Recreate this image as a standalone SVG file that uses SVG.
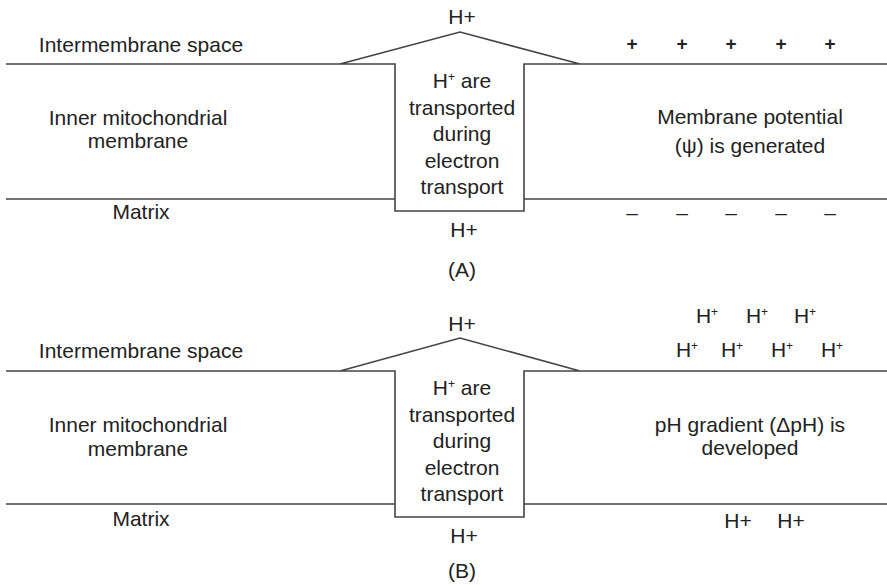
<svg xmlns="http://www.w3.org/2000/svg" width="887" height="585" viewBox="0 0 887 585">
<style>
text{font-family:"Liberation Sans",Arial,sans-serif;font-size:21px;fill:#222;text-anchor:middle}
.l{fill:none;stroke:#444;stroke-width:1.6}
.s{font-size:12px}
.p{font-weight:bold;font-size:19px}
</style>
<rect width="887" height="585" fill="#fff"/>
<g id="panelA">
<g id="membraneA">
<path class="l" d="M6,64H395V211H524V64H887M340,64L460,32L580,64M6,199H395M524,199H887"/>
</g>
<g id="labelsA">
<text x="141" y="52">Intermembrane space</text>
<text x="138" y="125">Inner mitochondrial</text>
<text x="138" y="148">membrane</text>
<text x="141" y="219">Matrix</text>
</g>
<g id="transportA">
<text x="462" y="24">H+</text>
<text x="462" y="88">H<tspan class="s" dy="-7">+</tspan><tspan dy="7"> are</tspan></text>
<text x="462" y="115">transported</text>
<text x="462" y="141">during</text>
<text x="462" y="168">electron</text>
<text x="462" y="194">transport</text>
<text x="464" y="237">H+</text>
<text x="462" y="277">(A)</text>
</g>
<g id="potentialA">
<text class="p" x="632" y="50">+</text><text class="p" x="682" y="50">+</text><text class="p" x="731" y="50">+</text><text class="p" x="781" y="50">+</text><text class="p" x="830" y="50">+</text>
<text x="750" y="124">Membrane potential</text>
<text x="750" y="153">(ψ) is generated</text>
<text x="632" y="220">–</text><text x="682" y="220">–</text><text x="731" y="220">–</text><text x="781" y="220">–</text><text x="830" y="220">–</text>
</g>
</g>
<g id="panelB">
<g id="membraneB">
<path class="l" d="M6,371H395V517H524V371H887M340,371L460,338L580,371M6,504H395M524,504H887"/>
</g>
<g id="labelsB">
<text x="141" y="358">Intermembrane space</text>
<text x="138" y="432">Inner mitochondrial</text>
<text x="138" y="456">membrane</text>
<text x="141" y="526">Matrix</text>
</g>
<g id="transportB">
<text x="462" y="331">H+</text>
<text x="462" y="395">H<tspan class="s" dy="-7">+</tspan><tspan dy="7"> are</tspan></text>
<text x="462" y="422">transported</text>
<text x="462" y="448">during</text>
<text x="462" y="475">electron</text>
<text x="462" y="501">transport</text>
<text x="464" y="543">H+</text>
<text x="462" y="578">(B)</text>
</g>
<g id="gradientB">
<text x="707" y="323">H<tspan class="s" dy="-7">+</tspan></text>
<text x="757" y="323">H<tspan class="s" dy="-7">+</tspan></text>
<text x="805" y="323">H<tspan class="s" dy="-7">+</tspan></text>
<text x="687" y="357">H<tspan class="s" dy="-7">+</tspan></text>
<text x="732" y="357">H<tspan class="s" dy="-7">+</tspan></text>
<text x="782" y="357">H<tspan class="s" dy="-7">+</tspan></text>
<text x="832" y="357">H<tspan class="s" dy="-7">+</tspan></text>
<text x="750" y="432">pH gradient (ΔpH) is</text>
<text x="750" y="455">developed</text>
<text x="738" y="528">H+</text>
<text x="791" y="528">H+</text>
</g>
</g>
</svg>
